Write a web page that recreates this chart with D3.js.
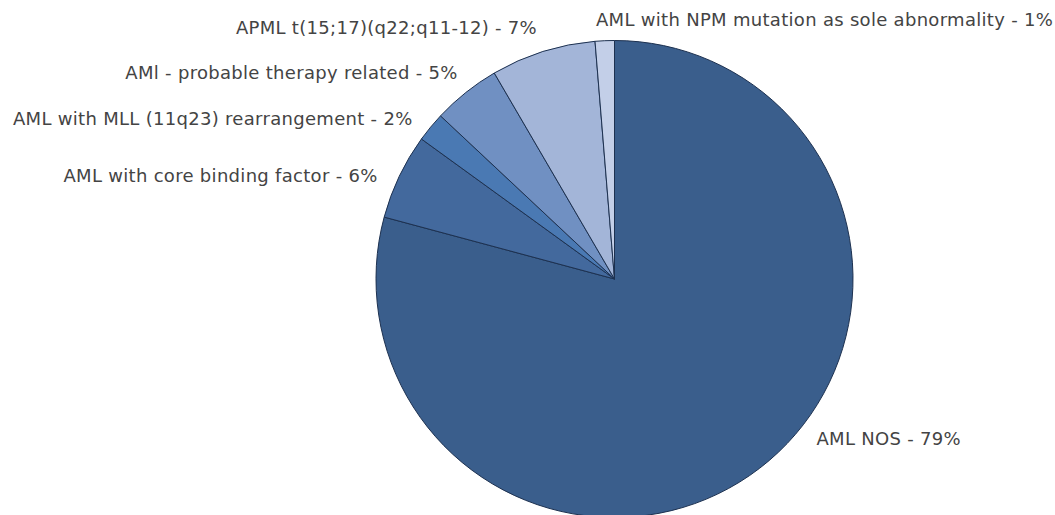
<!DOCTYPE html>
<html>
<head>
<meta charset="utf-8">
<script src="https://cdn.jsdelivr.net/npm/d3@7"></script>
<style>
  html, body { margin: 0; padding: 0; background: #ffffff; }
  svg { display: block; }
  text { font-family: "DejaVu Sans", Verdana, sans-serif; }
</style>
</head>
<body>
<svg id="chart" width="1055" height="515"></svg>
<script>
// Data (clockwise from 12 o'clock)
const categories = [
  "AML NOS",
  "AML with core binding factor",
  "AML with MLL (11q23) rearrangement",
  "AMl - probable therapy related",
  "APML t(15;17)(q22;q11-12)",
  "AML with NPM mutation as sole abnormality"
];
const values = [79.1, 5.8, 2.0, 4.6, 7.1, 1.3];
const percentLabels = ["79%", "6%", "2%", "5%", "7%", "1%"];
const colors = ["#3a5e8c", "#43699d", "#4a79b3", "#7090c2", "#a3b5d8", "#c3cfe8"];
// label layout nudges (px) relative to outer label point
const labelNudgeX = [45, -4, -3, 4, 0, -8];
const labelNudgeY = [-45, 8, 4, -4.5, -5.5, -2];

const svg = d3.select("#chart");
const cx = 614.5, cy = 279, r = 238.5, labelR = 258;

const g = svg.append("g").attr("transform", `translate(${cx},${cy})`);

const data = categories.map((c, i) => ({ name: c, value: values[i], pct: percentLabels[i], i }));
const pie = d3.pie().sort(null).value(d => d.value);
const arcs = pie(data);
const arc = d3.arc().innerRadius(0).outerRadius(r);
const labelArc = d3.arc().innerRadius(labelR).outerRadius(labelR);

g.selectAll("path.slice")
  .data(arcs)
  .join("path")
  .attr("class", "slice")
  .attr("d", arc)
  .attr("fill", d => colors[d.data.i])
  .attr("stroke", "#1d3150")
  .attr("stroke-width", 1)
  .attr("stroke-linejoin", "round");

g.selectAll("text.lbl")
  .data(arcs)
  .join("text")
  .attr("class", "lbl")
  .attr("x", d => labelArc.centroid(d)[0] + labelNudgeX[d.data.i])
  .attr("y", d => labelArc.centroid(d)[1] + labelNudgeY[d.data.i])
  .attr("dominant-baseline", "central")
  .attr("text-anchor", d => {
    const mid = (d.startAngle + d.endAngle) / 2;
    return (mid > Math.PI && mid < 2 * Math.PI - 0.06) ? "end" : "start";
  })
  .attr("font-size", 18)
  .attr("letter-spacing", 0.3)
  .attr("fill", "#444444")
  .text(d => `${d.data.name} - ${d.data.pct}`);
</script>
</body>
</html>
